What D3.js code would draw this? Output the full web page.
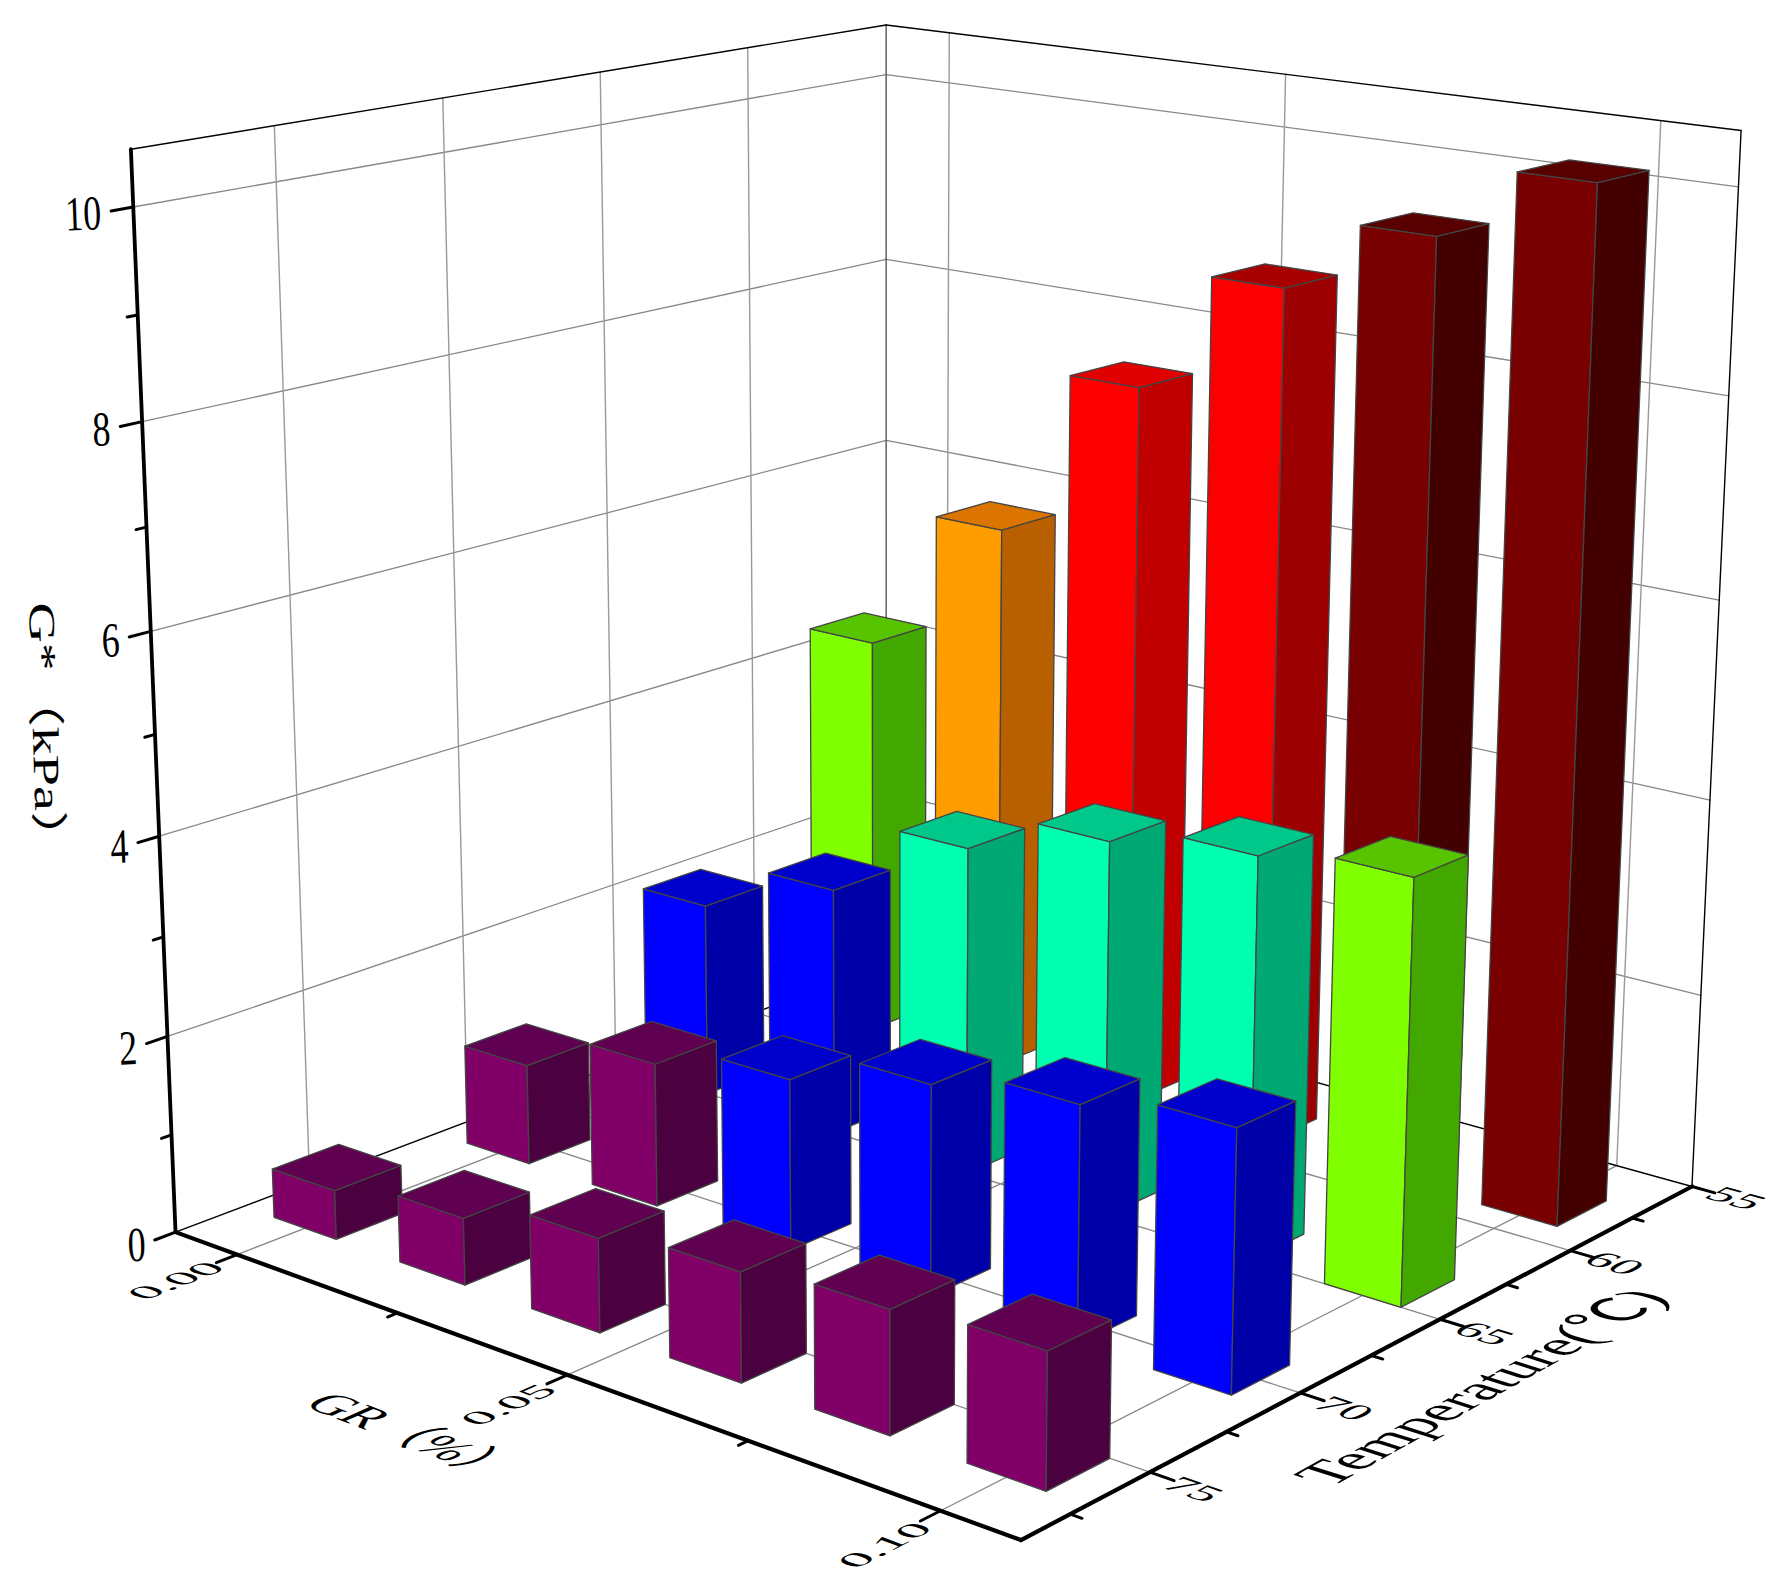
<!DOCTYPE html>
<html>
<head>
<meta charset="utf-8">
<script src="https://cdn.jsdelivr.net/npm/d3@7"></script>
<style>
body{margin:0;background:#fff}
text{font-family:"Liberation Serif","Noto Sans CJK SC",serif;fill:#000}
</style>
</head>
<body>
<svg width="1784" height="1582"></svg>
<script>
var grValues = [0, 0.02, 0.04, 0.06, 0.08, 0.10];
var tempValues = [58, 64, 70, 76];
var g58 = [4.31, 5.82, 7.56, 8.79, 9.51, 10.22];
var g64 = [2.05, 2.59, 3.39, 3.82, 4.04, 4.20];
var g70 = [1.04, 1.47, 1.73, 2.10, 2.33, 2.54];
var g76 = [0.50, 0.67, 0.93, 1.07, 1.19, 1.29];
var series = [g58, g64, g70, g76];

var grTicks = [0, 0.05, 0.10], grMinor = [0.025, 0.075];
var tempTicks = [55, 60, 65, 70, 75], tempMinor = [57.5, 62.5, 67.5, 72.5, 77.5];
var zTicks = [0, 2, 4, 6, 8, 10], zMinor = [1, 3, 5, 7, 9];
var zTop = 10.53;

// colour steps
var steps = [1.6, 3, 4.1, 5, 7, 8, 9];
var frontCol = ["#800068", "#0000ff", "#00ffb0", "#7fff00", "#ff9c00", "#ff0000", "#fa0000", "#780000"];
var sideCol = ["#4b0040", "#0000a8", "#00a873", "#42a800", "#b86000", "#c00000", "#9c0000", "#420000"];
var topCol = ["#5f0050", "#0000cc", "#00c88a", "#58c400", "#dc7400", "#e00000", "#a80000", "#580000"];

// camera: where the box corners sit on the page [a, b, kPa, px, py]
var anchors = [[0,1,0,175,1231],[1,1,0,1020,1541],[1,0,0,1692,1185],[0,0,0,886,965],
    [0,1,10,134,205],[0,0,10,886,73],[1,0,10,1739.5,184],
    [0,1,10.55,128,149],[0,0,10.55,886,26],[1,0,10.55,1741,132],
    [0,1,2,168,1038],[0,1,4,160,836],[0,1,6,152,631],[0,1,8,143,421],
    [0,0,8,886,258],[0,0,6,886,439]];

function solve(M, y){
    var n = M.length;
    M = M.map((r,i) => r.concat(y[i]));
    for (var i=0; i<n; i++){
        var p = i;
        for (var k=i; k<n; k++) if (Math.abs(M[k][i]) > Math.abs(M[p][i])) p = k;
        [M[i], M[p]] = [M[p], M[i]];
        for (k=i+1; k<n; k++){
            var f = M[k][i]/M[i][i];
            for (var j=i; j<=n; j++) M[k][j] -= f*M[i][j];
        }
    }
    var x = [];
    for (i=n-1; i>=0; i--){
        var s = M[i][n];
        for (j=i+1; j<n; j++) s -= M[i][j]*x[j];
        x[i] = s/M[i][i];
    }
    return x;
}

var rows = [], rhs = [];
anchors.forEach(function(q){
    var a=q[0], b=q[1], z=q[2], x=q[3], y=q[4];
    rows.push([a,b,z,1,0,0,0,0,-x*a,-x*b,-x*z]); rhs.push(x);
    rows.push([0,0,0,0,a,b,z,1,-y*a,-y*b,-y*z]); rhs.push(y);
});
var m = solve(d3.range(11).map(i => d3.range(11).map(j => d3.sum(rows, r => r[i]*r[j]))),
    d3.range(11).map(i => d3.sum(rows, (r,k) => r[i]*rhs[k])));

function project(a, b, z){
    var w = m[8]*a + m[9]*b + m[10]*z + 1;
    return [(m[0]*a + m[1]*b + m[2]*z + m[3])/w, (m[4]*a + m[5]*b + m[6]*z + m[7])/w];
}

var grScale = d3.scaleLinear().domain([-0.01, 0.11]).range([0, 1]);
var tempScale = d3.scaleLinear().domain([55, 79]).range([0, 1]);
var colourIndex = d3.scaleThreshold().domain(steps).range(d3.range(frontCol.length));
var line = d3.line();
var svg = d3.select("svg");

function seg(parent, p, q, col, width){
    parent.append("path").attr("d", line([p, q])).attr("fill", "none")
        .attr("stroke", col).attr("stroke-width", width).attr("stroke-linecap", "round");
}

// walls and floor
var back = svg.append("g");
zTicks.filter(z => z > 0).forEach(function(z){
    seg(back, project(0,1,z), project(0,0,z), "#888", 1.3);
    seg(back, project(0,0,z), project(1,0,z), "#888", 1.3);
});
tempTicks.slice(1).forEach(function(t){
    var b = tempScale(t);
    seg(back, project(0,b,0), project(0,b,zTop), "#999", 1.4);
    seg(back, project(0,b,0), project(1,b,0), "#888", 1.3);
});
grTicks.forEach(function(g){
    var a = grScale(g);
    seg(back, project(a,0,0), project(a,0,zTop), "#999", 1.4);
    seg(back, project(a,0,0), project(a,1,0), "#888", 1.3);
});
seg(back, project(0,0,0), project(0,0,zTop), "#555", 1.4);
seg(back, project(0,1,zTop), project(0,0,zTop), "#000", 1.4);
seg(back, project(0,0,zTop), project(1,0,zTop), "#000", 1.4);
seg(back, project(1,0,0), project(1,0,zTop), "#000", 1.4);
seg(back, project(0,1,0), project(0,0,0), "#000", 1.4);
seg(back, project(0,0,0), project(1,0,0), "#000", 1.4);

// bars, back row first
var bars = [];
tempValues.forEach(function(t,i){
    grValues.forEach(function(g,j){ bars.push({t:t, g:g, v:series[i][j]}); });
});
var barG = svg.append("g");
bars.forEach(function(d){
    var a0 = grScale(d.g-0.005), a1 = grScale(d.g+0.005);
    var b0 = tempScale(d.t-1), b1 = tempScale(d.t+1);
    var k = colourIndex(d.v);
    var faces = [
        [[[a0,b1,0],[a1,b1,0],[a1,b1,d.v],[a0,b1,d.v]], frontCol[k]],
        [[[a1,b1,0],[a1,b0,0],[a1,b0,d.v],[a1,b1,d.v]], sideCol[k]],
        [[[a0,b1,d.v],[a1,b1,d.v],[a1,b0,d.v],[a0,b0,d.v]], topCol[k]]
    ];
    var bar = barG.append("g");
    faces.forEach(function(f){
        bar.append("path")
            .attr("d", line(f[0].map(c => project(c[0],c[1],c[2]))) + "Z")
            .attr("fill", f[1])
            .attr("stroke", "#444")
            .attr("stroke-width", 1.3)
            .attr("stroke-linejoin", "round");
    });
});

// axes
var axes = svg.append("g");
seg(axes, project(0,1,0), project(1,1,0), "#000", 4.2);
seg(axes, project(1,1,0), project(1,0,0), "#000", 4.2);
seg(axes, project(0,1,0), project(0,1,zTop), "#000", 3.8);
var major = 0.025, minor = 0.012;
zTicks.forEach(z => seg(axes, project(0,1,z), project(0,1+major,z), "#000", 3));
zMinor.forEach(z => seg(axes, project(0,1,z), project(0,1+minor,z), "#000", 3));
grTicks.forEach(g => seg(axes, project(grScale(g),1,0), project(grScale(g),1+major,0), "#000", 3));
grMinor.forEach(g => seg(axes, project(grScale(g),1,0), project(grScale(g),1+minor,0), "#000", 3));
tempTicks.forEach(t => seg(axes, project(1,tempScale(t),0), project(1+major,tempScale(t),0), "#000", 3));
tempMinor.forEach(t => seg(axes, project(1,tempScale(t),0), project(1+minor,tempScale(t),0), "#000", 3));

// text lying in a plane: u runs along the text, v points down the glyphs
function label(str, p, u, v, sx, sy){
    var f = 20;
    svg.append("text")
        .attr("text-anchor", "middle")
        .attr("font-size", f)
        .attr("transform", "matrix(" + [u[0]*sx/f, u[1]*sx/f, v[0]*sy/f, v[1]*sy/f, p[0], p[1]].join(",") + ")")
        .text(str);
}
function unit(p, q){
    var dx = q[0]-p[0], dy = q[1]-p[1], n = Math.hypot(dx, dy);
    return [dx/n, dy/n];
}
function floorDirs(a, b){
    return {da: unit(project(a,b,0), project(a+0.01,b,0)), db: unit(project(a,b,0), project(a,b+0.01,0))};
}

zTicks.forEach(function(z){
    var p = project(0,1.04,z);
    svg.append("text")
        .attr("text-anchor", "end").attr("font-size", 20)
        .attr("transform", "matrix(" + [1.8, -0.08, 0.09, 2.45, p[0]+4, p[1]+16].join(",") + ")")
        .text(z);
});
grTicks.forEach(function(g){
    var a = grScale(g)+0.018, b = 1.077, d = floorDirs(a, b);
    label(g.toFixed(2), project(a,b,0), [-d.db[0],-d.db[1]], d.da, 51, 34);
});
tempTicks.forEach(function(t){
    var a = 1.047, b = tempScale(t)+0.017, d = floorDirs(a, b);
    label(t, project(a,b,0), d.da, d.db, 49, 36);
});
var dT = floorDirs(1.13, 0.515);
label("Temperature(℃)", project(1.13,0.515,0), [-dT.db[0],-dT.db[1]], dT.da, 58, 62);
var dG = floorDirs(0.49, 1.19);
label("GR（%）", project(0.49,1.19,0), dG.da, dG.db, 49, 52);
label("G*（kPa）", [33,735], [0.03,1], [-1,0.03], 56, 37);
</script>
</body>
</html>
